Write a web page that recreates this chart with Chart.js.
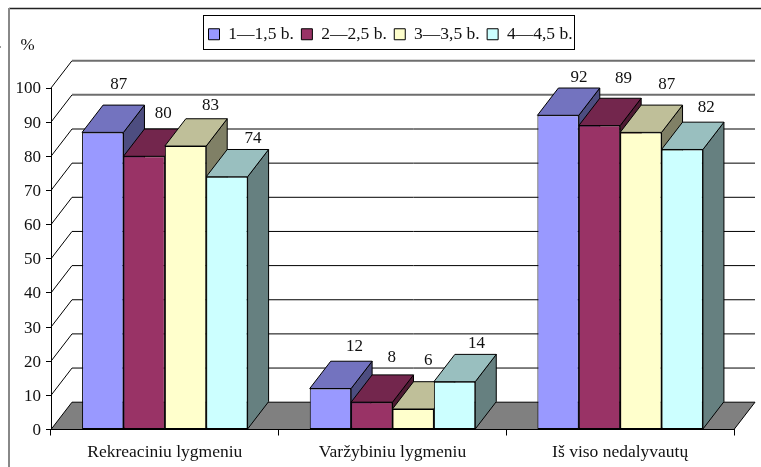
<!DOCTYPE html>
<html><head><meta charset="utf-8">
<style>html,body{margin:0;padding:0;background:#fff}canvas{display:block}</style>
<script src="https://cdn.jsdelivr.net/npm/chart.js@4"></script>
</head><body><canvas id="c" width="761" height="467"></canvas>
<script>
const categories = ["Rekreaciniu lygmeniu", "Varžybiniu lygmeniu", "Iš viso nedalyvautų"];
const seriesNames = ["1—1,5 b.", "2—2,5 b.", "3—3,5 b.", "4—4,5 b."];
const series1 = [87, 12, 92];
const series2 = [80, 8, 89];
const series3 = [83, 6, 87];
const series4 = [74, 14, 82];
const colors = ["#9999FF", "#993366", "#FFFFCC", "#CCFFFF"];

const FONT = '"Liberation Serif","Times New Roman",serif';
const DX = 21, DY = 27.3;
// label nudges relative to each bar's top-centre: [dx, dy] per series, per category
const labelNudges = [
  [[16,-48],[24,-42],[21,-38]],
  [[19,-43],[20,-45],[24,-47]],
  [[25,-41],[15,-48],[26,-48]],
  [[26,-38],[22,-38],[24,-42]]
];
function shade(hex, f){
  const n = parseInt(hex.slice(1),16);
  const c = s => Math.round(((n>>s)&255)*f);
  return `rgb(${c(16)},${c(8)},${c(0)})`;
}
function poly(ctx, pts, fill, stroke, lw){
  ctx.beginPath();
  pts.forEach((p,i)=> i?ctx.lineTo(p[0],p[1]):ctx.moveTo(p[0],p[1]));
  ctx.closePath();
  if(fill){ctx.fillStyle=fill;ctx.fill();}
  if(stroke){ctx.strokeStyle=stroke;ctx.lineWidth=lw||1;ctx.stroke();}
}
const scene3d = {
  id:'scene3d',
  beforeLayout(chart){
    const l = chart.legend;
    if(l && !l._fixed){
      const fit = l.fit;
      l.fit = function(){ fit.call(this); this.height = 32; };
      l._fixed = true;
    }
    const ys = chart.scales.y;
    if(ys && !ys._nudged){
      const f = ys._computeLabelItems;
      ys._computeLabelItems = function(a){
        return f.call(this,a).map(it=>Object.assign(it,{textOffset:it.textOffset+1}));
      };
      ys._nudged = true;
    }
  },
  afterLayout(chart){
    const l = chart.legend, h = l.bottom-l.top, w = l.right-l.left;
    l.left = 201; l.right = l.left + w; l.top = 18; l.bottom = l.top + h;
  },
  beforeDatasetsDraw(chart){
    const ctx = chart.ctx, a = chart.chartArea, y = chart.scales.y;
    ctx.save();
    ctx.lineJoin='miter';
    y.ticks.forEach(t=>{
      const py = y.getPixelForValue(t.value);
      if(t.value>0){
        const faint = t.value>=90;
        ctx.beginPath();ctx.moveTo(a.left,py);ctx.lineTo(a.left+DX,py-DY);
        ctx.strokeStyle='#000';ctx.lineWidth=1;ctx.stroke();
        ctx.beginPath();ctx.moveTo(a.left+DX,py-DY);ctx.lineTo(a.right+DX,py-DY);
        ctx.strokeStyle=faint?'#6e6e6e':'#000';ctx.lineWidth=faint?2:1;ctx.stroke();
      }
    });
    const b = y.getPixelForValue(0);
    poly(ctx,[[a.left,b],[a.left+DX,b-DY],[a.right+DX,b-DY],[a.right,b]],'#808080','#000',1);
    categories.forEach((_,j)=>{
      chart.data.datasets.forEach((ds,i)=>{
        const el = chart.getDatasetMeta(i).data[j];
        const x0 = el.x-el.width/2, x1 = el.x+el.width/2, t = el.y, bs = el.base;
        poly(ctx,[[x1,t],[x1+DX,t-DY],[x1+DX,bs-DY],[x1,bs]],shade(colors[i],0.5),'#000',1);
        poly(ctx,[[x0,t],[x0+DX,t-DY],[x1+DX,t-DY],[x1,t]],shade(colors[i],0.75),'#000',1);
      });
    });
    ctx.restore();
  },
  afterDatasetsDraw(chart){
    const ctx = chart.ctx;
    ctx.save();
    ctx.font = '17px '+FONT; ctx.fillStyle='#111';
    ctx.textAlign='center'; ctx.textBaseline='middle';
    chart.data.datasets.forEach((ds,i)=>{
      ds.data.forEach((v,j)=>{
        const el = chart.getDatasetMeta(i).data[j], n = labelNudges[i][j];
        ctx.fillText(String(v), el.x+n[0], el.y+n[1]);
      });
    });
    ctx.fillText('%', 27.5, 46);
    ctx.strokeStyle='#000';ctx.lineWidth=1;
    ctx.strokeRect(203.5,15.5,371,34);
    ctx.strokeStyle='#222';ctx.lineWidth=1.5;
    ctx.beginPath();ctx.moveTo(9,8.5);ctx.lineTo(761,8.5);ctx.stroke();
    ctx.strokeStyle='#888';ctx.lineWidth=2;
    ctx.beginPath();ctx.moveTo(9,8);ctx.lineTo(9,467);ctx.stroke();
    ctx.fillStyle='#999';ctx.fillRect(0,46,1,2);
    ctx.restore();
  }
};
const values = [series1, series2, series3, series4];
new Chart(document.getElementById('c'),{
  type:'bar',
  data:{labels:categories,datasets:seriesNames.map((n,i)=>({
    label:n,data:values[i],backgroundColor:colors[i],borderColor:'#000',borderWidth:1,borderSkipped:false,
    categoryPercentage:0.727,barPercentage:1
  }))},
  plugins:[scene3d],
  options:{
    responsive:false,animation:false,devicePixelRatio:1,
    layout:{padding:{top:56,right:27,left:0,bottom:0}},
    plugins:{
      tooltip:{enabled:false},
      legend:{display:true,position:'top',align:'start',
        labels:{boxWidth:11,boxHeight:11,padding:7.5,color:'#111',font:{family:FONT,size:17.5}}}
    },
    scales:{
      x:{
        afterFit:s=>{s.height=37.5;},
        grid:{drawOnChartArea:false,drawTicks:true,tickLength:6,color:'#000',offset:true},
        border:{color:'#000',width:1},
        ticks:{color:'#111',font:{family:FONT,size:17.5},padding:6,maxRotation:0,autoSkip:false}
      },
      y:{
        min:0,max:100,
        afterFit:s=>{s.width=51;},
        grid:{drawOnChartArea:false,drawTicks:true,tickLength:5,color:'#000'},
        border:{color:'#000',width:1},
        ticks:{stepSize:10,color:'#111',font:{family:FONT,size:17},padding:5,autoSkip:false}
      }
    }
  }
});
</script></body></html>
